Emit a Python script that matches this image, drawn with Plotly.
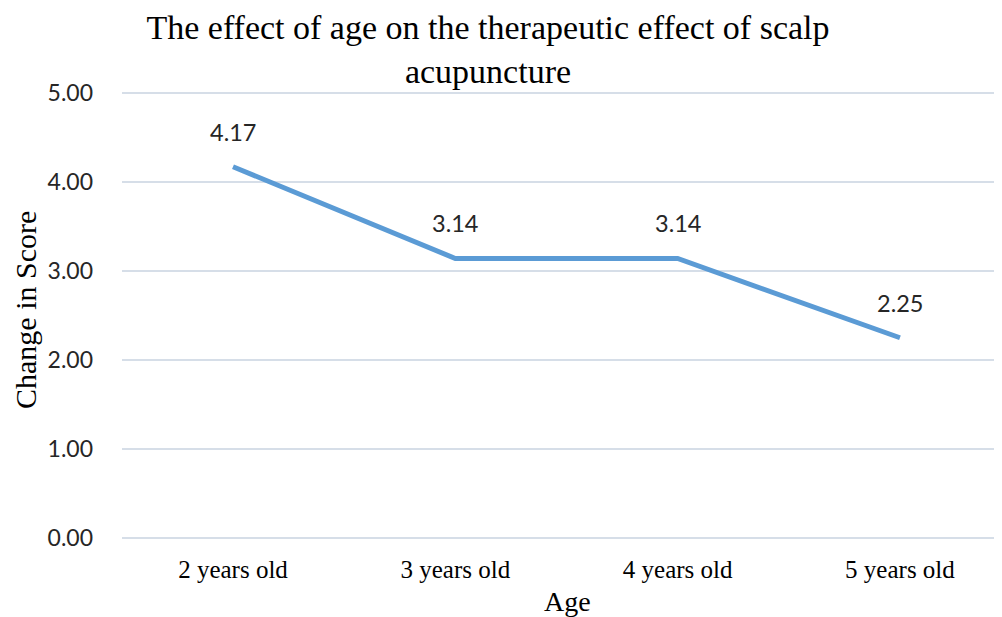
import plotly.graph_objects as go

categories = ["2 years old", "3 years old", "4 years old", "5 years old"]
scores = [4.17, 3.14, 3.14, 2.25]
y_ticks = [0, 1, 2, 3, 4, 5]
y_tick_labels = ["0.00", "1.00", "2.00", "3.00", "4.00", "5.00"]

# the page body has an 8px margin, so the figure is drawn 8px in from the corner
W, H = 994, 609
L, R, T, B = 114, 0, 83, 77
pw = W - L - R
ph = H - T - B
bottom_px = H - B

fig = go.Figure()
fig.add_trace(go.Scatter(
    x=categories, y=scores, mode="lines",
    line=dict(color="#5B9BD5", width=5),
    hoverinfo="skip", showlegend=False,
))

annotations = []
for c, v in zip(categories, scores):
    annotations.append(dict(
        x=c, y=v, xref="x", yref="y", text=f"{v:.2f}", showarrow=False,
        yshift=35, yanchor="middle",
        font=dict(family="Lato", size=23.5, color="#262626"),
    ))
annotations.append(dict(
    x=(17 - L) / pw, y=(bottom_px - 302) / ph, xref="paper", yref="paper",
    text="Change in Score", textangle=-90, showarrow=False,
    xanchor="center", yanchor="middle",
    font=dict(family="Liberation Serif", size=30, color="#000000"),
))
annotations.append(dict(
    x=(559 - L) / pw, y=(bottom_px - 593) / ph, xref="paper", yref="paper",
    text="Age", showarrow=False, xanchor="center", yanchor="middle",
    font=dict(family="Liberation Serif", size=28, color="#000000"),
))

fig.update_layout(
    width=W, height=H,
    margin=dict(l=L, r=R, t=T, b=B, autoexpand=False),
    paper_bgcolor="white", plot_bgcolor="white",
    title=dict(
        text="The effect of age on the therapeutic effect of scalp<br>acupuncture",
        x=480 / W, xref="container", xanchor="center",
        y=1 - 31 / H, yref="container", yanchor="top",
        font=dict(family="Liberation Serif", size=34, color="#000000"),
    ),
    xaxis=dict(
        type="category", range=[-0.4993, 3.459],
        showgrid=False, zeroline=False, showline=False, ticks="",
        tickfont=dict(family="Liberation Serif", size=25, color="#000000"),
        ticklabelstandoff=12,
    ),
    yaxis=dict(
        range=[-0.02, 5.02], tickvals=y_ticks, ticktext=y_tick_labels,
        showgrid=True, gridcolor="#D6DEE8", gridwidth=1.5,
        zeroline=False, showline=False, ticks="",
        tickfont=dict(family="Lato", size=23, color="#262626"),
        ticklabelstandoff=28,
    ),
    annotations=annotations,
)

fig.write_html("out.html")
